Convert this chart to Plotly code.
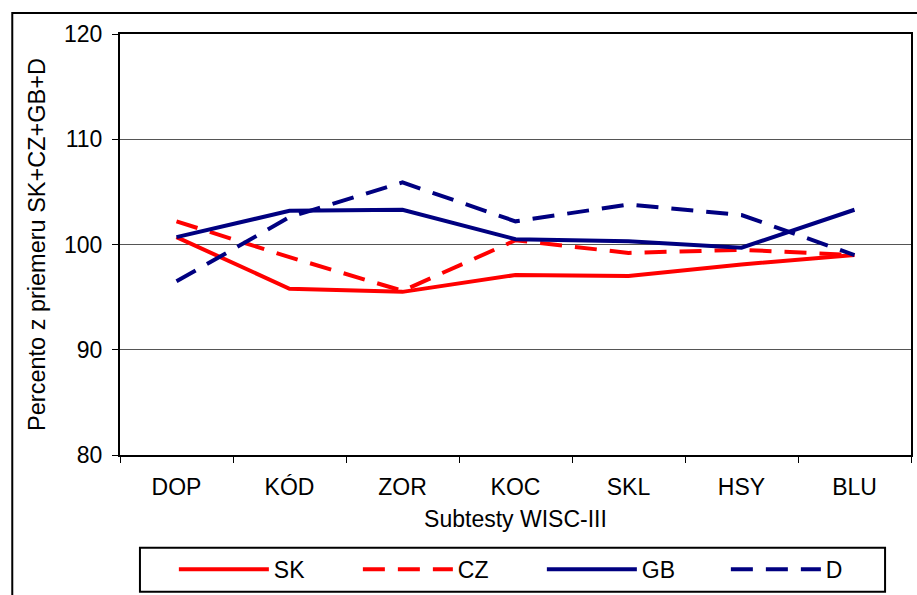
import plotly.graph_objects as go

categories = ["DOP", "KÓD", "ZOR", "KOC", "SKL", "HSY", "BLU"]
sk = [100.7, 95.8, 95.5, 97.1, 97.0, 98.1, 99.0]
cz = [102.2, 98.8, 95.6, 100.4, 99.2, 99.5, 99.0]
gb = [100.7, 103.2, 103.3, 100.5, 100.3, 99.7, 103.3]
de = [96.5, 102.6, 105.9, 102.2, 103.8, 102.8, 99.0]
y_ticks = [80, 90, 100, 110, 120]

RED = "#FF0000"
NAVY = "#000080"
DASH = "22px,13px"

fig = go.Figure()
fig.add_trace(go.Scatter(x=categories, y=sk, name="SK", mode="lines",
                         line=dict(color=RED, width=4)))
fig.add_trace(go.Scatter(x=categories, y=cz, name="CZ", mode="lines",
                         line=dict(color=RED, width=4, dash=DASH)))
fig.add_trace(go.Scatter(x=categories, y=gb, name="GB", mode="lines",
                         line=dict(color=NAVY, width=4)))
fig.add_trace(go.Scatter(x=categories, y=de, name="D", mode="lines",
                         line=dict(color=NAVY, width=4, dash=DASH)))

font = "Liberation Sans, Arial, sans-serif"
PW, PH, PL, PT = 793, 422, 120, 34


def px_x(x):
    return (x - PL) / PW


def px_y(y):
    return (PT + PH - y) / PH


# outer chart border (extends past the right/bottom edges like the reference)
fig.add_shape(type="rect", xref="paper", yref="paper",
              x0=px_x(12), x1=px_x(1000), y0=px_y(700), y1=px_y(13),
              line=dict(color="black", width=2), layer="below")
# legend frame
fig.add_shape(type="rect", xref="paper", yref="paper",
              x0=px_x(140), x1=px_x(887), y0=px_y(593), y1=px_y(549),
              line=dict(color="black", width=2), fillcolor="white", layer="below")

fig.update_layout(
    width=917, height=595,
    margin=dict(l=PL, r=917 - PL - PW, t=PT, b=595 - PT - PH),
    paper_bgcolor="white", plot_bgcolor="white",
    font=dict(family=font, size=23, color="black"),
    showlegend=True,
    legend=dict(orientation="h", x=px_x(174), y=px_y(549), xanchor="left", yanchor="top",
                borderwidth=0, bgcolor="rgba(0,0,0,0)",
                font=dict(size=23), entrywidth=79, entrywidthmode="pixels",
                itemwidth=90, tracegroupgap=0),
    xaxis=dict(
        title=dict(text="Subtesty WISC-III", font=dict(size=23), standoff=12),
        range=[-0.5, 6.5],
        showline=True, linecolor="black", linewidth=2, mirror=True,
        ticks="outside", tickson="boundaries", ticklen=6, tickcolor="black",
        ticklabelstandoff=10,
        showgrid=False, tickfont=dict(size=23),
    ),
    yaxis=dict(
        title=dict(text="Percento z priemeru SK+CZ+GB+D", font=dict(size=23.5), standoff=12),
        range=[80, 120], tickvals=y_ticks, ticktext=[str(v) for v in y_ticks],
        showline=True, linecolor="black", linewidth=2, mirror=True,
        ticks="outside", ticklen=6, tickcolor="black",
        ticklabelstandoff=5,
        showgrid=True, gridcolor="#555555", gridwidth=1,
        zeroline=False, tickfont=dict(size=23),
    ),
)

fig.write_html("out.html")
